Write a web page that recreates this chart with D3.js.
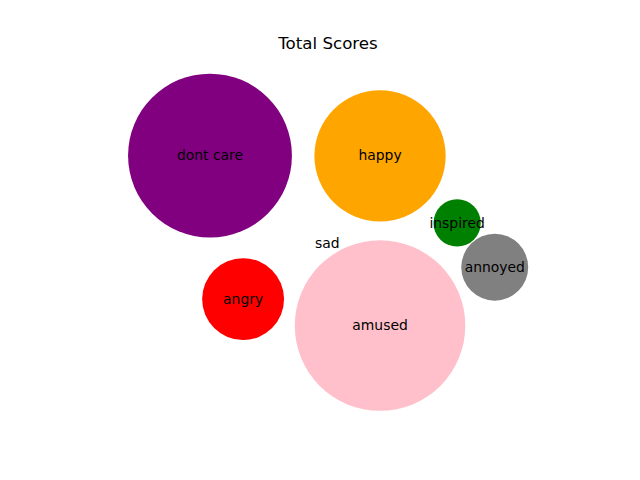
<!DOCTYPE html>
<html>
<head>
<meta charset="utf-8">
<script src="https://cdn.jsdelivr.net/npm/d3@7"></script>
<style>
  html, body { margin: 0; padding: 0; background: #fff; }
  svg { display: block; font-family: "DejaVu Sans", sans-serif; }
</style>
</head>
<body>
<div id="chart"></div>
<script>
// Data
const labels = ["dont care", "happy", "inspired", "annoyed", "sad", "angry", "amused"];
const scores = [12, 7.7, 1, 2, 0, 3, 13];
const colors = ["purple", "orange", "green", "grey", "blue", "red", "pink"];
// packed bubble centres (data units, radius unit = sqrt(score))
const posX = [-4.96, 2.23, 5.49, 7.08, 0, -3.56, 2.23];
const posY = [3.71, 3.70, 0.86, -1.01, 0, -2.36, -3.48];
const title = "Total Scores";

const width = 640, height = 480;
const margin = {left: 79.3, right: 64.7, top: 58.8, bottom: 52.2};
const plotW = width - margin.left - margin.right;
const plotH = height - margin.top - margin.bottom;
const k = 23.65; // px per data unit (equal aspect)

const x = d3.scaleLinear()
  .domain([-plotW / 2 / k, plotW / 2 / k])
  .range([margin.left, margin.left + plotW]);
const y = d3.scaleLinear()
  .domain([-plotH / 2 / k, plotH / 2 / k])
  .range([margin.top + plotH, margin.top]);
const r = d3.scaleSqrt().domain([0, 1]).range([0, k]);

const svg = d3.select("#chart").append("svg")
  .attr("width", width).attr("height", height);

const data = labels.map((l, i) => ({label: l, score: scores[i], color: colors[i], x: posX[i], y: posY[i]}));

svg.append("g").selectAll("circle").data(data).join("circle")
  .attr("cx", d => x(d.x))
  .attr("cy", d => y(d.y))
  .attr("r", d => r(d.score))
  .attr("fill", d => d.color);

svg.append("g").selectAll("text").data(data).join("text")
  .attr("x", d => x(d.x))
  .attr("y", d => y(d.y))
  .attr("dy", "0.33em")
  .attr("text-anchor", "middle")
  .attr("font-size", "13.9px")
  .attr("fill", "black")
  .text(d => d.label);

svg.append("text")
  .attr("x", 328)
  .attr("y", 48.7)
  .attr("text-anchor", "middle")
  .attr("font-size", "16.67px")
  .attr("fill", "black")
  .text(title);
</script>
</body>
</html>
